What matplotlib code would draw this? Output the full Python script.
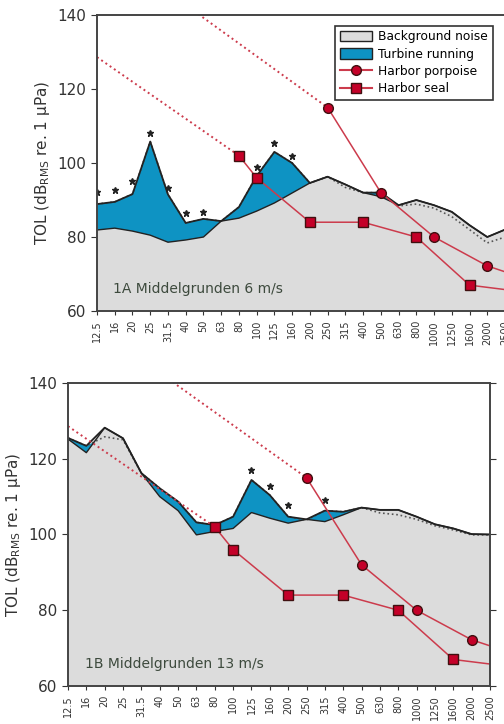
import numpy as np
import matplotlib.pyplot as plt
from matplotlib.patches import Patch
from matplotlib.lines import Line2D

freqs = ['12.5', '16', '20', '25', '31.5', '40', '50', '63', '80', '100', '125', '160',
         '200', '250', '315', '400', '500', '630', '800', '1000', '1250', '1600', '2000', '2500']

# 1A, 6 m/s
bg_a = [81.9, 82.4, 81.6, 80.5, 78.6, 79.2, 80.0, 84.3, 85.1, 87.0, 89.2, 91.9,
        94.6, 96.3, 94.2, 92.0, 90.9, 88.6, 90.0, 88.6, 86.8, 83.2, 80.0, 82.0]
turb_a = [88.9, 89.5, 91.6, 105.8, 91.5, 83.8, 84.9, 84.3, 88.1, 96.5, 103.0, 100.0,
          94.6, 96.3, 93.4, 92.0, 92.0, 88.4, 88.9, 87.8, 85.5, 82.0, 78.4, 80.0]
stars_a = ['12.5', '16', '20', '25', '31.5', '40', '50', '100', '125', '160']
stars_a_val = [92.1, 92.7, 95.1, 108.0, 93.2, 86.4, 86.8, 99.0, 105.3, 102.0]

# 1B, 13 m/s
bg_b = [125.2, 121.6, 128.2, 125.4, 116.2, 110.0, 106.3, 99.9, 100.8, 101.6, 105.8, 104.3,
        103.0, 104.0, 103.4, 105.2, 107.1, 106.5, 106.5, 104.7, 102.7, 101.6, 100.1, 100.0]
turb_b = [125.5, 123.4, 125.8, 125.0, 116.2, 112.2, 108.7, 103.2, 102.5, 104.7, 114.4, 110.4,
          104.7, 103.8, 106.3, 106.0, 107.1, 105.7, 105.2, 104.0, 102.3, 101.2, 99.9, 99.9]
stars_b = ['125', '160', '200', '315']
stars_b_val = [117.0, 112.8, 107.8, 109.1]

# audiograms
porp_f = ['250', '500', '1000', '2000']
porp_v = [115, 92, 80, 72.2]
porp_end = 70.6
porp_dot_f = ['12.5', '250']
porp_dot_v = [160, 115]
seal_f = ['80', '100', '200', '400', '800', '1600']
seal_v = [102, 96, 84, 84, 80, 67]
seal_end = 65.8
seal_dot_f = ['12.5', '80']
seal_dot_v = [128.6, 102]

blue = '#0e93c3'
grey = '#dcdcdc'
red_line = '#cc3b4c'
red_mark = '#c40028'


def ix(labels):
    return [freqs.index(f) for f in labels]


def panel(ax, bg, turb, st, st_val, label):
    x = np.arange(len(freqs))
    bg = np.array(bg)
    turb = np.array(turb)
    top = np.maximum(bg, turb)
    ax.fill_between(x, 60, top, color=grey, lw=0)
    ax.fill_between(x, bg, turb, where=turb > bg, interpolate=True, color=blue, lw=0)
    ax.plot(x, turb, ':', color='#555555', lw=1.2)
    ax.plot(x, bg, color='#222222', lw=1.0)
    ax.plot(x, top, color='#222222', lw=1.3)
    ax.plot(ix(st), st_val, '*', color='#222222', ms=5, ls='none')

    # audiograms, dotted part is the extrapolation
    ax.plot(ix(porp_dot_f), porp_dot_v, ':', color=red_line, lw=1.4)
    ax.plot(ix(seal_dot_f), seal_dot_v, ':', color=red_line, lw=1.4)
    ax.plot(ix(porp_f) + [len(freqs) - 1], porp_v + [porp_end], color=red_line, lw=1.1)
    ax.plot(ix(porp_f), porp_v, 'o', color=red_mark, mec='#401010', ms=7, ls='none')
    ax.plot(ix(seal_f) + [len(freqs) - 1], seal_v + [seal_end], color=red_line, lw=1.1)
    ax.plot(ix(seal_f), seal_v, 's', color=red_mark, mec='#401010', ms=6.5, ls='none')

    ax.set_xlim(0, len(freqs) - 1)
    ax.set_ylim(60, 140)
    ax.set_yticks([60, 80, 100, 120, 140])
    ax.set_xticks(x)
    ax.set_xticklabels(freqs, rotation=90, fontsize=7, color='#333333')
    ax.tick_params(axis='y', labelsize=11, colors='#333333', direction='out', length=4,
                   right=True)
    ax.tick_params(axis='x', direction='out', length=3, colors='#333333')
    for s in ax.spines.values():
        s.set_color('#444444')
        s.set_linewidth(1.4)
    ax.set_ylabel('TOL (dB$_{\\mathrm{RMS}}$ re. 1 µPa)', fontsize=11, color='#333333')
    ax.text(0.04, 0.06, label, transform=ax.transAxes, fontsize=10, color='#3d4a3d')


fig = plt.figure(figsize=(5.04, 7.24), dpi=100)
ax1 = fig.add_axes([0.1925, 0.5704, 0.8095, 0.4089])
ax2 = fig.add_axes([0.1349, 0.0525, 0.8373, 0.4185])

panel(ax1, bg_a, turb_a, stars_a, stars_a_val, '1A Middelgrunden 6 m/s')
panel(ax2, bg_b, turb_b, stars_b, stars_b_val, '1B Middelgrunden 13 m/s')

handles = [
    Patch(facecolor=grey, edgecolor='#222222', label='Background noise'),
    Patch(facecolor=blue, edgecolor='#222222', label='Turbine running'),
    Line2D([], [], color=red_line, marker='o', mfc=red_mark, mec='#401010', ms=7,
           label='Harbor porpoise'),
    Line2D([], [], color=red_line, marker='s', mfc=red_mark, mec='#401010', ms=6.5,
           label='Harbor seal'),
]
leg = ax1.legend(handles=handles, loc='upper right', fontsize=8.8, fancybox=False,
                 framealpha=1, edgecolor='#333333',
                 handlelength=2.6, handleheight=0.9, labelspacing=0.35, borderpad=0.4,
                 handletextpad=0.5, bbox_to_anchor=(0.985, 0.985))
leg.get_frame().set_linewidth(1.2)

fig.savefig('out.png', dpi=100)
